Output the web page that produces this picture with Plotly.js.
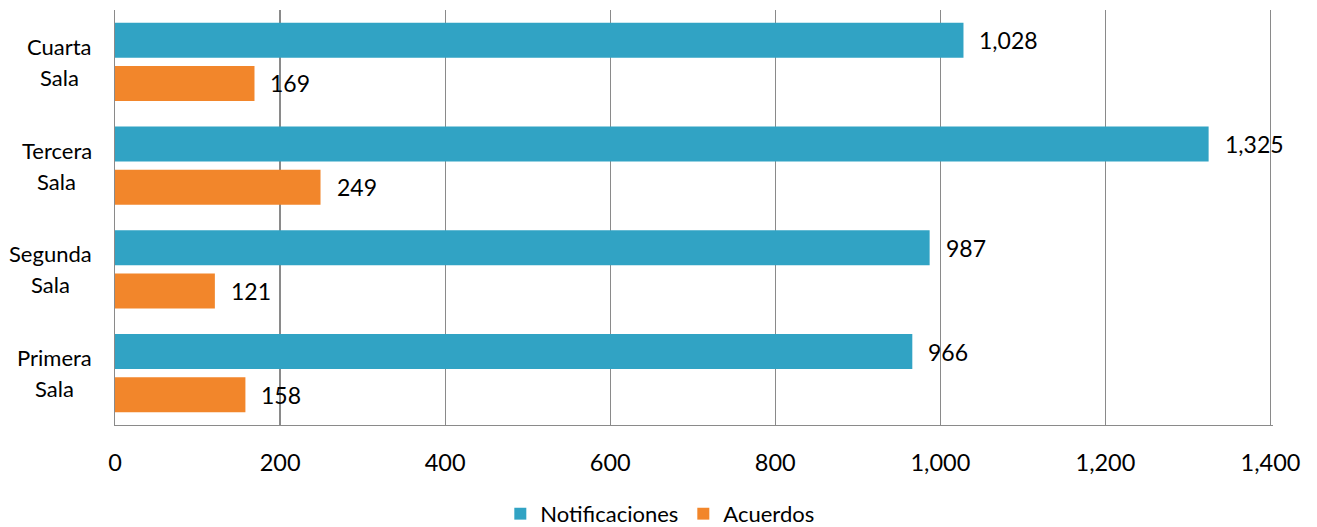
<!DOCTYPE html>
<html>
<head>
<meta charset="utf-8">
<script src="https://cdn.plot.ly/plotly-3.0.1.min.js"></script>
<style>html,body{margin:0;padding:0;background:#fff;}#chart{width:1317px;height:527px;}</style>
</head>
<body>
<div id="chart"></div>
<script>
const categories = ["Primera Sala", "Segunda Sala", "Tercera Sala", "Cuarta Sala"];
const labelLine1 = ["Primera", "Segunda", "Tercera", "Cuarta"];
const labelLine2 = ["Sala", "Sala", "Sala", "Sala"];
const notificaciones = [966, 987, 1325, 1028];
const acuerdos = [158, 121, 249, 169];
const seriesNames = ["Notificaciones", "Acuerdos"];
const xTickVals = [0, 200, 400, 600, 800, 1000, 1200, 1400];

const FONT = "Lato, 'Open Sans', sans-serif";
const blue = "#31A3C4";
const orange = "#F2862B";
const LABEL_SIZE = 22;

const traces = [
  {type: "bar", orientation: "h", name: seriesNames[1], y: categories, x: acuerdos,
   marker: {color: orange, line: {width: 0}}, hoverinfo: "x"},
  {type: "bar", orientation: "h", name: seriesNames[0], y: categories, x: notificaciones,
   marker: {color: blue, line: {width: 0}}, hoverinfo: "x"}
];

const ctx = document.createElement("canvas").getContext("2d");
ctx.font = LABEL_SIZE + "px Lato";
const textW = s => ctx.measureText(s).width;

const fmt = v => v.toLocaleString("en-US");
const annotations = [];
categories.forEach((c, i) => {
  annotations.push({x: notificaciones[i], y: c, xref: "x", yref: "y", text: fmt(notificaciones[i]),
    showarrow: false, xanchor: "left", yanchor: "middle", xshift: 14, yshift: 21.5,
    font: {family: FONT, size: 23, color: "#000"}});
  annotations.push({x: acuerdos[i], y: c, xref: "x", yref: "y", text: fmt(acuerdos[i]),
    showarrow: false, xanchor: "left", yanchor: "middle", xshift: 14, yshift: -21.5,
    font: {family: FONT, size: 23, color: "#000"}});
  // category labels: block right-aligned, lines centred within block
  const blockW = Math.max(textW(labelLine1[i]), textW(labelLine2[i]));
  const cx = -23 - blockW / 2;
  annotations.push({x: 0, y: c, xref: "paper", yref: "y", text: labelLine1[i],
    showarrow: false, xanchor: "center", yanchor: "middle", xshift: cx, yshift: 15.5,
    font: {family: FONT, size: LABEL_SIZE, color: "#000"}});
  annotations.push({x: 0, y: c, xref: "paper", yref: "y", text: labelLine2[i],
    showarrow: false, xanchor: "center", yanchor: "middle", xshift: cx, yshift: -15.5,
    font: {family: FONT, size: LABEL_SIZE, color: "#000"}});
});

const layout = {
  width: 1317, height: 527,
  margin: {l: 115, r: 43.5, t: 10, b: 102, pad: 0},
  paper_bgcolor: "#fff", plot_bgcolor: "#fff",
  barmode: "group", bargap: 0.17, bargroupgap: 0.186,
  font: {family: FONT, color: "#000"},
  xaxis: {range: [0, 1403], tickvals: xTickVals, ticktext: xTickVals.map(fmt),
    showgrid: true, gridcolor: "#8a8a8a", gridwidth: 1.3,
    showline: true, linecolor: "#8a8a8a", linewidth: 1.3,
    zeroline: false, ticks: "", ticklabelstandoff: 16,
    tickfont: {family: FONT, size: 23.5, color: "#000"}, fixedrange: true},
  yaxis: {type: "category", categoryorder: "array", categoryarray: categories,
    showgrid: false, showline: true, linecolor: "#8a8a8a", linewidth: 1.3,
    zeroline: false, ticks: "", showticklabels: false, fixedrange: true},
  showlegend: true,
  legend: {orientation: "h", traceorder: "reversed", xref: "container", yref: "container",
    x: 0.501, xanchor: "center", y: 0.025, yanchor: "middle",
    font: {family: FONT, size: 22, color: "#000"}, itemwidth: 30, tracegroupgap: 0},
  annotations: annotations
};

Plotly.newPlot("chart", traces, layout, {displayModeBar: false, staticPlot: true});
</script>
</body>
</html>
